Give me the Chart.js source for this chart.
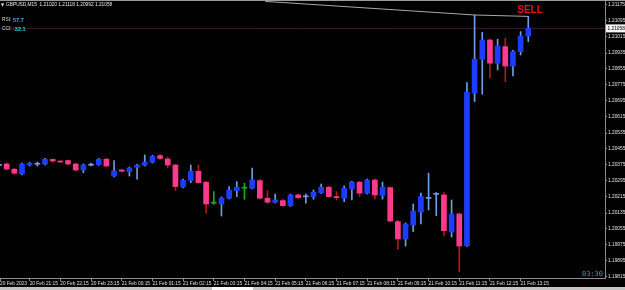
<!DOCTYPE html>
<html>
<head>
<meta charset="utf-8">
<script src="https://cdn.jsdelivr.net/npm/chart.js@4"></script>
<style>
  html, body { margin: 0; padding: 0; background: #000; overflow: hidden; }
  #wrap { width: 625px; height: 290px; }
</style>
</head>
<body>
<div id="wrap"><canvas id="chart" width="625" height="290"></canvas></div>
<script>
// GBPUSD M15, 20 Feb 20:15 -> 21 Feb 13:30 (one entry per bar)
const opens  = [1.20373,1.20380,1.20354,1.20330,1.20375,1.20379,1.20380,1.20403,1.20393,1.20397,
                1.20380,1.20350,1.20374,1.20377,1.20404,1.20320,1.20350,1.20342,1.20364,1.20374,
                1.20389,1.20422,1.20405,1.20375,1.20265,1.20298,1.20344,1.20289,1.20184,1.20180,
                1.20209,1.20247,1.20259,1.20259,1.20297,1.20209,1.20189,1.20197,1.20172,1.20225,
                1.20216,1.20217,1.20237,1.20264,1.20215,1.20209,1.20255,1.20289,1.20234,1.20300,
                1.20223,1.20262,1.20092,1.20005,1.20075,1.20139,1.20208,1.20228,1.20225,1.20040,
                1.20130,1.19972,1.20734,1.20904,1.21000,1.20884,1.20967,1.20870,1.20942,1.21020];
const highs  = [1.20385,1.20385,1.20358,1.20385,1.20388,1.20390,1.20408,1.20405,1.20395,1.20400,
                1.20385,1.20380,1.20385,1.20408,1.20408,1.20397,1.20355,1.20365,1.20378,1.20425,
                1.20423,1.20428,1.20415,1.20378,1.20305,1.20375,1.20375,1.20293,1.20242,1.20215,
                1.20267,1.20292,1.20284,1.20359,1.20303,1.20247,1.20230,1.20203,1.20230,1.20230,
                1.20230,1.20250,1.20280,1.20268,1.20242,1.20270,1.20293,1.20293,1.20305,1.20305,
                1.20289,1.20265,1.20098,1.20085,1.20180,1.20234,1.20334,1.20237,1.20237,1.20200,
                1.20135,1.20787,1.21125,1.21039,1.21005,1.21004,1.21009,1.20948,1.21042,1.21118];
const lows   = [1.20365,1.20350,1.20328,1.20325,1.20370,1.20370,1.20375,1.20390,1.20388,1.20375,
                1.20345,1.20337,1.20370,1.20373,1.20365,1.20315,1.20340,1.20320,1.20304,1.20370,
                1.20385,1.20403,1.20360,1.20248,1.20260,1.20287,1.20283,1.20134,1.20178,1.20120,
                1.20205,1.20217,1.20204,1.20255,1.20205,1.20183,1.20185,1.20168,1.20168,1.20208,
                1.20184,1.20204,1.20233,1.20213,1.20200,1.20192,1.20200,1.20217,1.20230,1.20204,
                1.20204,1.20090,1.19954,1.19970,1.20042,1.20080,1.20150,1.20122,1.20020,1.20015,
                1.19842,1.19968,1.20692,1.20729,1.20809,1.20850,1.20792,1.20820,1.20925,1.20992];
const closes = [1.20375,1.20355,1.20334,1.20380,1.20383,1.20381,1.20403,1.20395,1.20390,1.20380,
                1.20350,1.20375,1.20376,1.20404,1.20370,1.20345,1.20344,1.20360,1.20374,1.20389,
                1.20418,1.20408,1.20375,1.20267,1.20298,1.20343,1.20287,1.20180,1.20184,1.20209,
                1.20250,1.20264,1.20259,1.20300,1.20209,1.20189,1.20200,1.20172,1.20225,1.20212,
                1.20218,1.20239,1.20264,1.20217,1.20212,1.20259,1.20289,1.20234,1.20300,1.20225,
                1.20263,1.20095,1.20005,1.20080,1.20145,1.20217,1.20210,1.20230,1.20047,1.20130,
                1.19970,1.20739,1.20904,1.21000,1.20884,1.20970,1.20870,1.20942,1.21020,1.21058];

// line joining the recent highs (runs off the top on the left)
const trendBars   = [34.7, 62, 69];
const trendPrices = [1.21193, 1.21125, 1.21118];

const priceTicks = [1.19815,1.19895,1.19975,1.20055,1.20135,1.20215,1.20295,1.20375,1.20455,
                    1.20535,1.20615,1.20695,1.20775,1.20855,1.20935,1.21015,1.21095,1.21175];
const timeTickBars   = [0.13, 4, 8, 12, 16, 20, 24, 28, 32, 36, 40, 44, 48, 52, 56, 60, 64, 68];
const timeTickLabels = ["20 Feb 2023","20 Feb 21:15","20 Feb 22:15","20 Feb 23:15","21 Feb 00:15",
                        "21 Feb 01:15","21 Feb 02:15","21 Feb 03:15","21 Feb 04:15","21 Feb 05:15",
                        "21 Feb 06:15","21 Feb 07:15","21 Feb 08:15","21 Feb 09:15","21 Feb 10:15",
                        "21 Feb 11:15","21 Feb 12:15","21 Feb 13:15"];

const symbolTitle = "GBPUSD,M15";
const rsiValue = "57.7";
const cciValue = "-32.1";
const countdown = "03:30";
const signalText = "SELL";

const FONT = "'Liberation Sans', Arial, sans-serif";
const BULL = "#1c3cff", BEAR = "#ff3a8c", DOJI = "#22a822";
const BULL_WICK = "#6f9edf", BEAR_WICK = "#a81c1c";
const last = closes.length - 1;

function kind(i) {
  if (opens[i] === closes[i]) return "doji";
  return closes[i] > opens[i] ? "bull" : "bear";
}
function bodyColor(ctx) {
  const i = ctx.dataIndex, k = kind(i);
  if (k === "doji") return DOJI;
  const tiny = Math.abs(closes[i] - opens[i]) < 0.00003;
  if (k === "bull") return tiny ? BULL_WICK : BULL;
  return BEAR;
}
function wickColor(ctx) {
  const k = kind(ctx.dataIndex);
  return k === "doji" ? DOJI : k === "bull" ? BULL_WICK : BEAR_WICK;
}

const decor = {
  id: "decor",
  afterDraw(chart) {
    const c = chart.ctx, y = chart.scales.y, area = chart.chartArea;
    c.save();
    // window frame top
    c.fillStyle = "#9a9a9a";
    c.fillRect(0, 0, 625, 1);

    // header
    c.textBaseline = "middle";
    c.textAlign = "left";
    c.fillStyle = "#e8e8e8";
    c.font = "4px 'DejaVu Sans'";
    c.fillText("\u25BC", 1, 5);
    c.font = "4.8px " + FONT;
    const ohlc = [opens[last], highs[last], lows[last], closes[last]].map(v => v.toFixed(5)).join(" ");
    c.fillText(symbolTitle + "  " + ohlc, 6, 5);

    // indicator values
    c.fillStyle = "#d8d8d8";
    c.fillText("RSI:", 2, 20);
    c.fillText("CCI:", 2, 29);
    c.font = "bold 5.5px " + FONT;
    c.fillStyle = "#4aa8ff";
    c.fillText(rsiValue, 13, 20);
    c.fillStyle = "#2fd8d8";
    c.fillText(cciValue, 13, 29);

    // signal
    c.font = "bold 10px " + FONT;
    c.fillStyle = "#e8141e";
    c.textAlign = "center";
    c.fillText(signalText, 530, 10.5);

    // current price box on the axis
    const py = y.getPixelForValue(closes[last]);
    c.fillStyle = "#f4f4f4";
    c.fillRect(area.right + 1, py - 4, 19, 8);
    c.fillStyle = "#000";
    c.textAlign = "left";
    c.font = "4.8px " + FONT;
    c.fillText(closes[last].toFixed(5), area.right + 2.5, py + 0.5);

    // bar countdown
    c.font = "7px 'DejaVu Sans Mono'";
    c.fillStyle = "#21a3a3";
    c.textAlign = "right";
    c.fillText(countdown, area.right - 2, 274.5);

    // bottom tab strip
    c.fillStyle = "#c4c4c4";
    c.fillRect(0, 287, 625, 3);
    c.fillStyle = "#fafafa";
    c.fillRect(212, 287, 41, 3);
    c.restore();
  }
};

const wickData = opens.map((_, i) => ({ x: i, y: [lows[i], highs[i]] }));
const bodyData = opens.map((_, i) => ({ x: i, y: [opens[i], closes[i]] }));

new Chart(document.getElementById("chart"), {
  type: "bar",
  data: {
    datasets: [
      { data: bodyData, order: 1, barThickness: 5, minBarLength: 1, grouped: false,
        backgroundColor: bodyColor, borderWidth: 0 },
      { data: wickData, order: 2, barThickness: 1, minBarLength: 1, grouped: false,
        backgroundColor: wickColor, borderWidth: 0 },
      { type: "line", order: 0, data: trendBars.map((b, i) => ({ x: b, y: trendPrices[i] })),
        borderColor: "#a8a8a8", borderWidth: 1, pointRadius: 0 },
      { type: "line", order: 3, data: [{ x: 0.13, y: closes[last] }, { x: 79, y: closes[last] }],
        borderColor: "#3a1838", borderWidth: 1, pointRadius: 0 }
    ]
  },
  options: {
    responsive: false,
    animation: false,
    layout: { padding: 0 },
    plugins: { legend: { display: false }, tooltip: { enabled: false } },
    scales: {
      x: {
        type: "linear", min: 0.13, max: 79, offset: false,
        grid: { drawOnChartArea: false, offset: false, tickLength: 3, color: "#8a8a8a" },
        border: { color: "#8a8a8a" },
        ticks: {
          autoSkip: false, maxRotation: 0, align: "start", padding: 0,
          color: "#e0e0e0", font: { family: FONT, size: 4.8 },
          callback: (v, i) => timeTickLabels[i]
        },
        afterBuildTicks: s => { s.ticks = timeTickBars.map(v => ({ value: v })); },
        afterFit: s => { s.height = 12; s.paddingLeft = 0; s.paddingRight = 0; }
      },
      y: {
        position: "right", min: 1.1981, max: 1.212,
        grid: { drawOnChartArea: false, tickLength: 2, color: "#8a8a8a" },
        border: { color: "#8a8a8a" },
        ticks: {
          autoSkip: false, padding: 1, color: "#e0e0e0", font: { family: FONT, size: 4.8 },
          callback: v => v.toFixed(5)
        },
        afterBuildTicks: s => { s.ticks = priceTicks.map(v => ({ value: v })); },
        afterFit: s => { s.width = 20; s.paddingTop = 0; s.paddingBottom = 0; }
      }
    }
  },
  plugins: [decor]
});
</script>
</body>
</html>
